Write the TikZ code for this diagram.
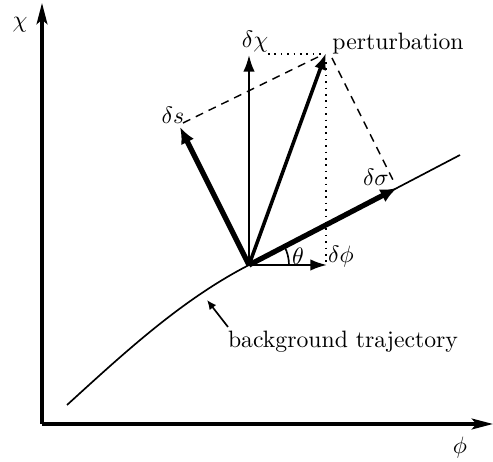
\documentclass[tikz,border=0pt]{standalone}
\usetikzlibrary{arrows.meta}
\begin{document}
\begin{tikzpicture}[x=0.422pt,y=-0.422pt,
  axis/.style={line width=1.3pt,-{Stealth[length=9pt,width=4.6pt,inset=2pt]}},
  thickvec/.style={line width=2.2pt,-{Latex[length=7pt,width=6pt]}},
  medvec/.style={line width=1.5pt,-{Latex[length=7pt,width=5.2pt]}},
  thinvec/.style={line width=0.9pt,-{Latex[length=7pt,width=4.8pt]}},
  proj/.style={line width=0.7pt,dotted},
  comp/.style={line width=0.6pt,dash pattern=on 3.4pt off 2.6pt},
  traj/.style={line width=0.7pt},
  lab/.style={inner sep=0pt}]
\useasboundingbox (0,0) rectangle (493,462);
% axes
\coordinate (orig) at (42,424);
\coordinate (ytip) at (42,3);
\coordinate (xtip) at (493,424);
\draw[axis] (orig) -- (ytip);
\draw[axis] (orig) -- (xtip);
\node[lab] (chilab) at (20,25) {$\chi$};
\node[lab] (philab) at (460,448) {$\phi$};
% trajectory
\coordinate (A) at (67,405);
\coordinate (O) at (249,265);
\coordinate (E) at (460,155);
\draw[traj] (A) .. controls (123,354) and (181,300) .. (O)
  .. controls (315,231) and (395,189) .. (E);
% vectors
\coordinate (dchi) at (249,55);
\coordinate (pert) at (326,53);
\coordinate (dphi) at (327,265);
\coordinate (dsig) at (397,188);
\coordinate (ds) at (180,127);
\draw[proj] (268,54) -- (322,54);
\draw[proj] (326,62) -- (326,263);
\draw[comp] (183,123) -- (320,56);
\draw[comp] (332,58) -- (395,184);
\draw[thinvec] (O) -- (dchi);
\draw[thinvec] (O) -- (dphi);
\draw[medvec] (O) -- (pert);
\draw[thickvec] (O) -- (dsig);
\draw[thickvec] (O) -- (ds);
\draw[line width=0.7pt] ([xshift=40*0.422pt]O) arc[start angle=0,end angle=-27.5,radius=40];
% labels
\node[lab] (dchilab) at (255,42) {$\delta\chi$};
\node[lab,anchor=west] (pertlab) at (332,44) {perturbation};
\node[lab] (dslab) at (173,115) {$\delta s$};
\node[lab] (dsiglab) at (376,177) {$\delta\sigma$};
\node[lab] (thlab) at (298,256) {$\theta$};
\node[lab] (dphilab) at (341,257) {$\delta\phi$};
\node[lab] (bglab) at (343,342) {background trajectory};
\coordinate (bgpt) at (207,300);
\draw[line width=0.7pt,-{Latex[length=4pt,width=3.5pt]}] (228,327) -- (bgpt);
\end{tikzpicture}
\end{document}
